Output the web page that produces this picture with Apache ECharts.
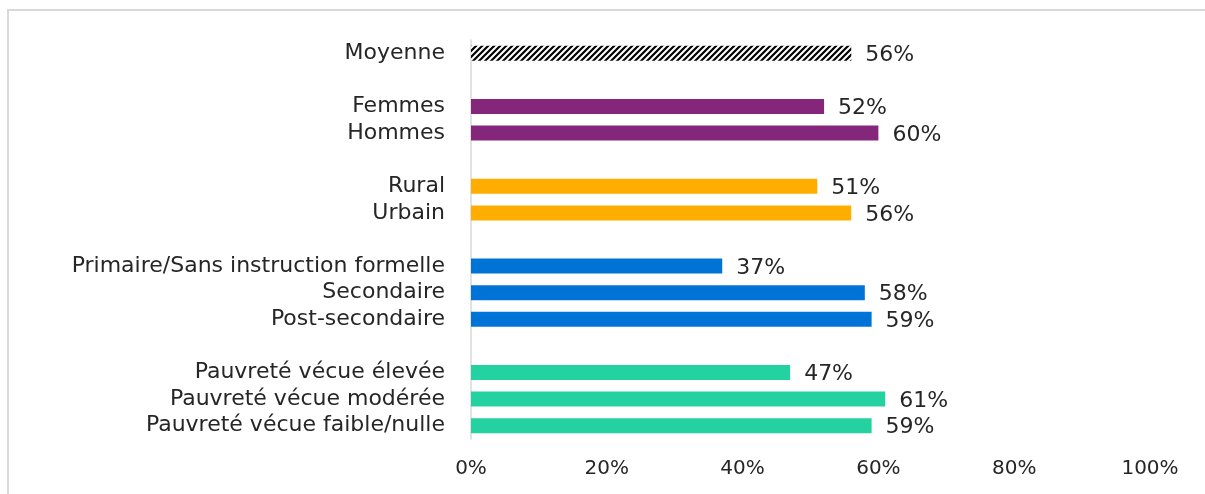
<!DOCTYPE html>
<html><head><meta charset="utf-8">
<script src="https://cdn.jsdelivr.net/npm/echarts@6/dist/echarts.min.js"></script>
<style>html,body{margin:0;padding:0;background:#fff;overflow:hidden}#c{width:1205px;height:494px}
.ln{position:absolute;background:#d9d9d9;pointer-events:none}</style>
</head><body><div id="c"></div>
<div class="ln" style="left:7px;top:9px;width:1198px;height:2px"></div>
<div class="ln" style="left:7px;top:9px;width:2px;height:485px"></div>
<script>
const categories = ['Moyenne','\u200b','Femmes','Hommes','\u200b\u200b','Rural','Urbain','\u200b\u200b\u200b',
  'Primaire/Sans instruction formelle','Secondaire','Post-secondaire','\u200b\u200b\u200b\u200b',
  'Pauvreté vécue élevée','Pauvreté vécue modérée','Pauvreté vécue faible/nulle'];
const values = [56,null,52,60,null,51,56,null,37,58,59,null,47,61,59];
const groups = ['avg',null,'sex','sex',null,'area','area',null,'edu','edu','edu',null,'pov','pov','pov'];
const xTicks = [0,20,40,60,80,100];

const groupColors = {sex:'#84277A', area:'#FFAD00', edu:'#0074D6', pov:'#24D1A0'};
const pc = document.createElement('canvas'); pc.width = 6; pc.height = 6;
const g = pc.getContext('2d');
g.fillStyle = '#fff'; g.fillRect(0,0,6,6);
g.strokeStyle = '#000'; g.lineWidth = 2.2;
g.beginPath(); g.moveTo(-1,7); g.lineTo(7,-1); g.moveTo(-4,4); g.lineTo(4,-4); g.moveTo(2,10); g.lineTo(10,2); g.stroke();
const hatch = {image: pc, repeat: 'repeat'};

const font = "'DejaVu Sans',sans-serif";
const chart = echarts.init(document.getElementById('c'));
chart.setOption({
  animation:false,
  grid:{left:471,right:55,top:40,bottom:55},
  xAxis:{type:'value',min:xTicks[0],max:xTicks[xTicks.length-1],interval:20,
    axisLabel:{formatter:v=>v+'%',fontFamily:font,fontSize:20,color:'#262626',margin:20},
    splitLine:{show:false},axisLine:{show:false},axisTick:{show:false}},
  yAxis:{type:'category',data:categories,inverse:true,
    axisLine:{show:true,lineStyle:{color:'#d9d9d9',width:1.5}},axisTick:{show:false},
    axisLabel:{interval:0,fontFamily:font,fontSize:22,color:'#262626',margin:26}},
  series:[{type:'bar',barWidth:15,
    data:values.map((v,i)=>({value:v,itemStyle:{color:groups[i]==='avg'?hatch:(groupColors[groups[i]]||'#000')}})),
    label:{show:true,position:'right',distance:14,offset:[0,2],formatter:p=>p.value==null?'':p.value+'%',
      fontFamily:font,fontSize:22,color:'#262626'}}]
});
</script></body></html>
